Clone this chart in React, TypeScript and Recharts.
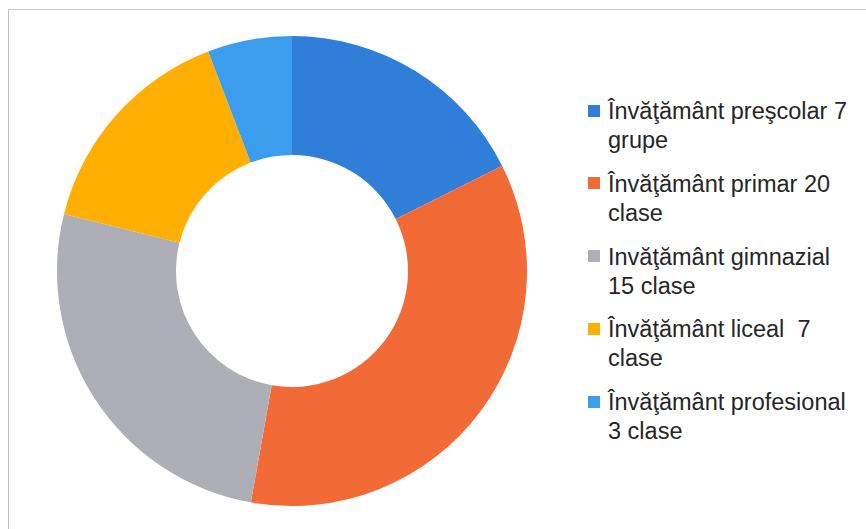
import React from "react";
import { PieChart, Pie, Cell } from "recharts";

const categories = [
  "Învăţământ preşcolar 7 grupe",
  "Învăţământ primar 20 clase",
  "Invăţământ gimnazial 15 clase",
  "Învăţământ liceal  7 clase",
  "Învăţământ profesional 3 clase",
];
const legendLine1 = [
  "Învăţământ preşcolar 7",
  "Învăţământ primar 20",
  "Invăţământ gimnazial",
  "Învăţământ liceal  7",
  "Învăţământ profesional",
];
const legendLine2 = ["grupe", "clase", "15 clase", "clase", "3 clase"];
const shares = [17.6, 35.2, 26.1, 15.3, 5.8];
const colors = ["#2F7ED8", "#F26A36", "#ADAEB6", "#FFAF00", "#3C9CEE"];

const data = categories.map((name, i) => ({ name, value: shares[i] }));

export default function App() {
  return (
    <div style={{ position: "absolute", left: 0, top: 0, width: 866, height: 529, background: "#fff", overflow: "hidden" }}>
      <div style={{ position: "absolute", left: 8, top: 9, width: 858, height: 520, borderTop: "1px solid #cfcfcf", borderLeft: "1px solid #bdbdbd" }} />
      <PieChart width={866} height={529} margin={{ top: 0, right: 0, bottom: 0, left: 0 }} style={{ position: "absolute", left: 0, top: 0 }}>
        <Pie
          data={data}
          dataKey="value"
          nameKey="name"
          cx={292}
          cy={271}
          innerRadius={116}
          outerRadius={235}
          startAngle={90}
          endAngle={-270}
          stroke="none"
          isAnimationActive={false}
        >
          {data.map((d, i) => (
            <Cell key={d.name} fill={colors[i]} />
          ))}
        </Pie>
      </PieChart>
      <div
        style={{
          position: "absolute",
          left: 588,
          top: 97,
          width: 278,
          fontFamily: "'Liberation Sans', Arial, sans-serif",
          fontSize: 23.5,
          color: "#262626",
        }}
      >
        {categories.map((c, i) => (
          <div key={c} style={{ display: "flex", alignItems: "flex-start", marginBottom: i < categories.length - 1 ? 14.75 : 0 }}>
            <div style={{ width: 12, height: 12, background: colors[i], marginTop: 7.5, marginRight: 8, flexShrink: 0 }} />
            <div style={{ lineHeight: "29px", whiteSpace: "pre" }}>
              <div>{legendLine1[i]}</div>
              <div>{legendLine2[i]}</div>
            </div>
          </div>
        ))}
      </div>
    </div>
  );
}
